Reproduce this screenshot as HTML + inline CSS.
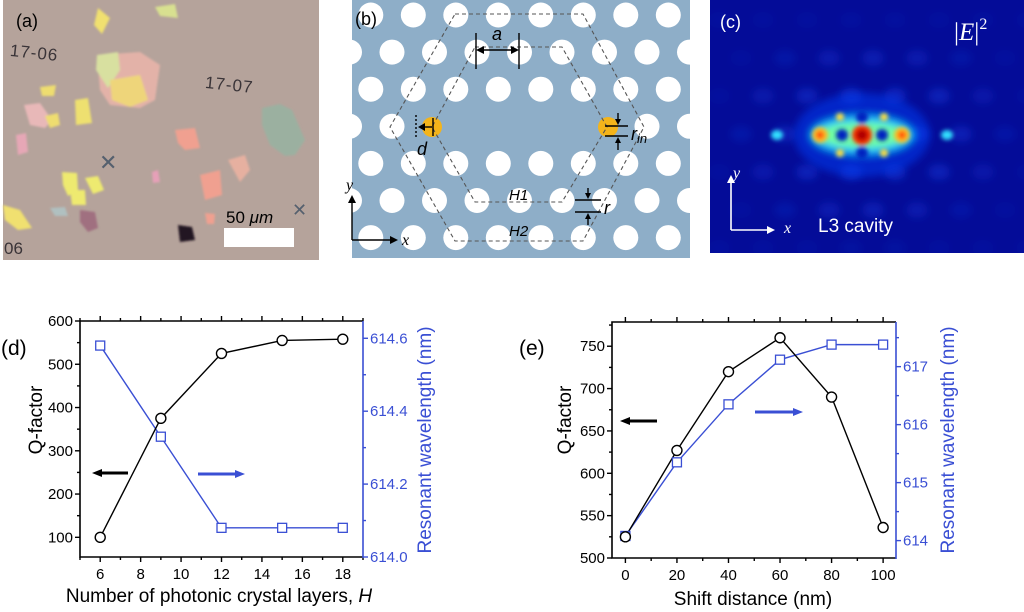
<!DOCTYPE html>
<html><head><meta charset="utf-8"><style>
html,body{margin:0;padding:0;background:#fff;}
svg{display:block;font-family:"Liberation Sans",sans-serif;}
</style></head><body>
<svg id="fig" width="1024" height="612" viewBox="0 0 1024 612">
<defs>
<filter id="blur4" x="-50%" y="-50%" width="200%" height="200%"><feGaussianBlur stdDeviation="4"/></filter>
<filter id="blur2" x="-50%" y="-50%" width="200%" height="200%"><feGaussianBlur stdDeviation="2.2"/></filter>
<filter id="blur1" x="-50%" y="-50%" width="200%" height="200%"><feGaussianBlur stdDeviation="1"/></filter>
<clipPath id="clipb"><rect x="352" y="0" width="338" height="258"/></clipPath>
<clipPath id="clipc"><rect x="710" y="0" width="314" height="253"/></clipPath>
</defs>

<!-- Panel (a) -->
<g>
<rect x="3" y="0" width="316" height="260" fill="#b5a39b"/>
<g filter="url(#blur1)">
<polygon points="97,55 140,52 160,65 155,100 140,108 110,105 100,90" fill="#e3b2a8"/>
<polygon points="97,55 118,52 120,70 108,88 96,70" fill="#d8e0a0"/>
<polygon points="110,80 140,75 148,100 130,107 112,100" fill="#eed57a"/>
<polygon points="262,108 280,104 292,110 305,140 295,155 285,156 270,145 262,125" fill="#9bb0a0"/>
<polygon points="98,8 110,18 102,34 94,25" fill="#f0e070"/>
<polygon points="155,7 175,4 178,18 160,16" fill="#d8e090"/>
<polygon points="24,105 40,103 52,120 45,128 30,125" fill="#e8b8b8"/>
<polygon points="45,116 58,113 60,125 50,128" fill="#eedd70"/>
<polygon points="16,135 26,133 28,152 18,155" fill="#e6a7b6"/>
<polygon points="75,100 88,98 92,123 76,125" fill="#eee070"/>
<polygon points="40,87 56,85 54,96 42,96" fill="#eedd70"/>
<polygon points="175,130 195,128 200,148 185,150 178,143" fill="#f0a090"/>
<polygon points="62,172 77,173 78,190 68,196 63,185" fill="#eeea70"/>
<polygon points="85,178 98,176 104,190 93,194" fill="#eeea70"/>
<polygon points="70,190 85,190 86,205 72,205" fill="#eeea70"/>
<polygon points="200,175 220,170 222,195 205,200" fill="#f0a090"/>
<polygon points="228,160 245,155 250,170 240,182" fill="#e6b0a0"/>
<polygon points="152,172 158,170 160,182 153,183" fill="#e6a0b8"/>
<polygon points="3,205 20,210 32,228 18,230 5,220" fill="#f0e070"/>
<polygon points="50,208 65,207 68,216 55,216" fill="#b0c0c0"/>
<polygon points="80,210 95,212 98,228 88,232 80,222" fill="#a07080"/>
<polygon points="178,225 192,227 195,240 180,242" fill="#201820"/>
<polygon points="205,213 215,214 214,224 207,224" fill="#f0a090"/>
</g>
<text x="10" y="58" font-size="17" fill="#3a3438" letter-spacing="1" transform="rotate(6 30 52)">17-06</text>
<text x="205" y="90" font-size="17" fill="#3a3438" letter-spacing="1" transform="rotate(6 225 85)">17-07</text>
<text x="4" y="254" font-size="17" fill="#3a3438">06</text>
<text x="99" y="170" font-size="22" fill="#55606e">✕</text>
<text x="292" y="216" font-size="18" fill="#55606e">✕</text>
<rect x="224" y="228" width="70" height="19" fill="#fff"/>
<text x="226" y="223" font-size="17" fill="#000">50 <tspan font-style="italic">μm</tspan></text>
<text x="16" y="27" font-size="18" fill="#000">(a)</text>
</g>

<!-- Panel (b) -->
<g>
<rect x="352" y="0" width="338" height="258" fill="#8eaec8"/>
<g id="holes" clip-path="url(#clipb)"></g>
<circle cx="432" cy="127" r="10" fill="#f4b41a"/>
<circle cx="608" cy="127" r="10" fill="#f4b41a"/>
<polygon points="455,14 583,14 644,127 583,241 455,241 390,127" fill="none" stroke="#555" stroke-width="1.1" stroke-dasharray="4,3"/>
<polygon points="475,47 562,47 607,127 562,202 475,202 432,127" fill="none" stroke="#555" stroke-width="1.1" stroke-dasharray="4,3"/>
<g stroke="#000" stroke-width="1.4" fill="none">
<line x1="476" y1="33" x2="476" y2="69"/><line x1="519" y1="33" x2="519" y2="69"/>
<line x1="480" y1="50" x2="515" y2="50"/>
<line x1="416" y1="115" x2="416" y2="138" stroke-dasharray="2,2"/>
<line x1="433" y1="118" x2="433" y2="136"/>
<line x1="422" y1="127" x2="432" y2="127"/>
<line x1="605" y1="126" x2="628" y2="126"/><line x1="605" y1="136" x2="628" y2="136"/>
<line x1="618" y1="113" x2="618" y2="123"/><line x1="618" y1="140" x2="618" y2="150"/>
<line x1="575" y1="200" x2="601" y2="200"/><line x1="575" y1="212" x2="601" y2="212"/>
<line x1="588" y1="188" x2="588" y2="197"/><line x1="588" y1="216" x2="588" y2="225"/>
<line x1="352" y1="240" x2="352" y2="200"/><line x1="352" y1="240" x2="392" y2="240"/>
</g>
<g fill="#000">
<polygon points="476,50 484,46 484,54"/><polygon points="519,50 511,46 511,54"/>
<polygon points="418,127 425,123 425,131"/>
<polygon points="618,125 615,119 621,119"/><polygon points="618,137 615,143 621,143"/>
<polygon points="588,199 585,193 591,193"/><polygon points="588,213 585,219 591,219"/>
<polygon points="352,195 348,203 356,203"/><polygon points="398,240 390,236 390,244"/>
</g>
<g font-style="italic" font-size="18" fill="#000">
<text x="492" y="40">a</text>
<text x="417" y="155">d</text>
<text x="631" y="140">r<tspan font-size="13" dy="3">in</tspan></text>
<text x="604" y="214">r</text>
<text x="509" y="200" font-size="15">H1</text>
<text x="509" y="236" font-size="15">H2</text>
<text x="346" y="190" font-size="16" font-family="Liberation Serif">y</text>
<text x="402" y="245" font-size="16" font-family="Liberation Serif">x</text>
</g>
<text x="355" y="25" font-size="18" fill="#000">(b)</text>
</g>

<!-- Panel (c) -->
<g>
<rect x="710" y="0" width="314" height="253" fill="#040c98"/>
<g id="field" clip-path="url(#clipc)"></g>
<text x="720" y="28" font-size="18" fill="#fff">(c)</text>
<text x="954" y="40" font-size="25" fill="#fff" font-family="Liberation Serif">|<tspan font-style="italic">E</tspan>|<tspan font-size="16" dy="-11">2</tspan></text>
<text x="818" y="232" font-size="19" fill="#fff">L3 cavity</text>
<g stroke="#fff" stroke-width="1.6"><line x1="731" y1="230" x2="731" y2="180"/><line x1="731" y1="230" x2="770" y2="230"/></g>
<g fill="#fff"><polygon points="731,175 727,183 735,183"/><polygon points="775,230 767,226 767,234"/></g>
<text x="733" y="178" font-size="16" font-style="italic" fill="#fff" font-family="Liberation Serif">y</text>
<text x="784" y="233" font-size="16" font-style="italic" fill="#fff" font-family="Liberation Serif">x</text>
</g>

<g id="chartD"></g>
<g id="chartE"></g>
</svg>

<script>
// ---------- data: panel (d)
const dLayers = [6, 9, 12, 15, 18];
const dQ = [100, 375, 525, 555, 558];
const dWl = [614.58, 614.33, 614.08, 614.08, 614.08];
const dXTicks = [6, 8, 10, 12, 14, 16, 18];
const dQTicks = [100, 200, 300, 400, 500, 600];
const dWlTicks = ["614.0", "614.2", "614.4", "614.6"];
// ---------- data: panel (e)
const eShift = [0, 20, 40, 60, 80, 100];
const eQ = [525, 627, 720, 760, 690, 536];
const eWl = [614.08, 615.35, 616.35, 617.12, 617.38, 617.38];
const eXTicks = [0, 20, 40, 60, 80, 100];
const eQTicks = [500, 550, 600, 650, 700, 750];
const eWlTicks = ["614", "615", "616", "617"];

const NS = "http://www.w3.org/2000/svg";
const BLUE = "#3a4fd4";
function mk(parent, tag, attrs, txt) {
  const el = document.createElementNS(NS, tag);
  for (const k in attrs) el.setAttribute(k, attrs[k]);
  if (txt !== undefined) el.textContent = txt;
  parent.appendChild(el);
  return el;
}

// lattice holes
(function(){
  const g = document.getElementById('holes');
  for (let j = 0; j < 7; j++) {
    const y = 15 + 37.1 * j;
    const x0 = (j % 2 ? 392 : 413.3) - 42.5 * 2;
    for (let k = 0; k < 10; k++) {
      const x = x0 + 42.5 * k;
      if (j === 3 && x > 420 && x < 620) continue;
      const c = mk(g, 'circle', {cx: x, cy: y, r: 12.5, fill: '#fff'});
      
      
    }
  }
})();

// field pattern
(function(){
  const g = document.getElementById('field');
  const soft = mk(g, 'g', {filter: 'url(#blur4)'});
  for (let j = 0; j < 7; j++) {
    const y = 20 + 38 * j;
    const x0 = (j % 2 ? 733 : 755) - 44;
    for (let k = 0; k < 9; k++) {
      const x = x0 + 44 * k;
      const d = Math.hypot((x - 862) / 160, (y - 135) / 120);
      const op = Math.max(0.06, 0.55 - 0.5 * d);
      mk(soft, 'ellipse', {cx: x + 8, cy: y, rx: 11, ry: 8, fill: '#1e50ff', opacity: op});
    }
  }
  const mid = mk(g, 'g', {filter: 'url(#blur4)'});
  mk(mid, 'ellipse', {cx: 862, cy: 135, rx: 68, ry: 42, fill: '#0838f0', opacity: 0.55});
  mk(mid, 'ellipse', {cx: 862, cy: 135, rx: 52, ry: 20, fill: '#10c0ff'});
  mk(mid, 'ellipse', {cx: 862, cy: 135, rx: 44, ry: 13, fill: '#70ffa0'});
  const hot = mk(g, 'g', {filter: 'url(#blur2)'});
  [[842,135],[882,135],[862,117],[862,153]].forEach(p => mk(hot,'circle',{cx:p[0],cy:p[1],r:6,fill:'#0520c0'}));
  [[820,135],[902,135]].forEach(p => { mk(hot,'circle',{cx:p[0],cy:p[1],r:8,fill:'#ffc020'}); mk(hot,'circle',{cx:p[0],cy:p[1],r:4,fill:'#ff5010'}); });
  mk(hot,'circle',{cx:862,cy:135,r:10,fill:'#ff3000'});
  mk(hot,'circle',{cx:862,cy:135,r:6,fill:'#b00000'});
  [[840,117],[884,117],[840,153],[884,153]].forEach(p => mk(hot,'circle',{cx:p[0],cy:p[1],r:4,fill:'#ffe040'}));
  [[777,135],[947,135]].forEach(p => mk(hot,'ellipse',{cx:p[0],cy:p[1],rx:6,ry:5,fill:'#30e0ff'}));
})();

function drawChart(root, cfg) {
  const g = document.getElementById(root);
  const {L, R, T, B, xMin, xMax, yMin, yMax, y2Min, y2Max} = cfg;
  const sx = v => L + (v - xMin) / (xMax - xMin) * (R - L);
  const sy = v => B - (v - yMin) / (yMax - yMin) * (B - T);
  const sy2 = v => B - (v - y2Min) / (y2Max - y2Min) * (B - T);
  const tk = (x1,y1,x2,y2,col) => mk(g,'line',{x1,y1,x2,y2,stroke:col,'stroke-width':1.4});
  cfg.xTicks.forEach(v => {
    tk(sx(v),B,sx(v),B+5,'#000'); tk(sx(v),T,sx(v),T-5,'#000');
    const t = mk(g,'text',{x:sx(v),y:B+22,'font-size':15,'text-anchor':'middle',fill:'#000'}, v);
    
    
  });
  for (let i = 0; i < cfg.xTicks.length - 1; i++) {
    const m = (cfg.xTicks[i] + cfg.xTicks[i+1]) / 2;
    tk(sx(m),B,sx(m),B+3,'#000'); tk(sx(m),T,sx(m),T-3,'#000');
  }
  [cfg.xTicks[0]-(cfg.xTicks[1]-cfg.xTicks[0])/2, cfg.xTicks[cfg.xTicks.length-1]+(cfg.xTicks[1]-cfg.xTicks[0])/2].forEach(m => {
    if (m >= xMin && m <= xMax) { tk(sx(m),B,sx(m),B+3,'#000'); tk(sx(m),T,sx(m),T-3,'#000'); }
  });
  const qs = cfg.yTicks[1] - cfg.yTicks[0];
  for (let v = cfg.yTicks[0] - qs; v <= yMax + 0.001; v += qs / 2) {
    if (v < yMin) continue;
    const major = cfg.yTicks.includes(v);
    tk(L, sy(v), L - (major ? 5 : 3), sy(v), '#000');
  }
  cfg.yTicks.forEach(v => {
    const t = mk(g,'text',{x:L-7,y:sy(v)+5,'font-size':15,'text-anchor':'end',fill:'#000'}, v);
    
    
  });
  const w = cfg.y2Ticks.map(Number);
  const ws = w[1] - w[0];
  for (let v = w[0] - ws; v <= y2Max + 1e-6; v += ws / 2) {
    if (v < y2Min - 1e-6) continue;
    const major = w.some(x => Math.abs(x - v) < 1e-6);
    tk(R, sy2(v), R + (major ? 5 : 3), sy2(v), BLUE);
  }
  cfg.y2Ticks.forEach(s => {
    const t = mk(g,'text',{x:R+7,y:sy2(Number(s))+5,'font-size':15,fill:BLUE}, s);
    
    
  });
  mk(g,'path',{d:`M${R},${T} L${L},${T} L${L},${B} L${R},${B}`,fill:'none',stroke:'#000','stroke-width':1.6});
  mk(g,'line',{x1:R,y1:T,x2:R,y2:B+1,stroke:BLUE,'stroke-width':1.6});
  const qPts = cfg.xs.map((x,i)=>sx(x)+','+sy(cfg.q[i])).join(' ');
  const wPts = cfg.xs.map((x,i)=>sx(x)+','+sy2(cfg.wl[i])).join(' ');
  const wl = mk(g,'polyline',{points:wPts,fill:'none',stroke:BLUE,'stroke-width':1.4});
  
  
  const ql = mk(g,'polyline',{points:qPts,fill:'none',stroke:'#000','stroke-width':1.4});
  
  
  cfg.xs.forEach((x,i) => {
    const s = mk(g,'rect',{x:sx(x)-4.5,y:sy2(cfg.wl[i])-4.5,width:9,height:9,fill:'#fff',stroke:BLUE,'stroke-width':1.3});
    
    
  });
  cfg.xs.forEach((x,i) => {
    const c = mk(g,'circle',{cx:sx(x),cy:sy(cfg.q[i]),r:5,fill:'#fff',stroke:'#000','stroke-width':1.4});
    
    
  });
  const a1 = cfg.arrowL, a2 = cfg.arrowR;
  mk(g,'line',{x1:a1[1],y1:a1[2],x2:a1[0]+8,y2:a1[2],stroke:'#000','stroke-width':3});
  mk(g,'polygon',{points:`${a1[0]},${a1[2]} ${a1[0]+10},${a1[2]-4} ${a1[0]+10},${a1[2]+4}`,fill:'#000'});
  mk(g,'line',{x1:a2[0],y1:a2[2],x2:a2[1]-8,y2:a2[2],stroke:BLUE,'stroke-width':3});
  mk(g,'polygon',{points:`${a2[1]},${a2[2]} ${a2[1]-10},${a2[2]-4} ${a2[1]-10},${a2[2]+4}`,fill:BLUE});
  const yt = mk(g,'text',{x:0,y:0,'font-size':19,'text-anchor':'middle',fill:'#000',transform:`translate(${cfg.yTitleX},${cfg.yTitleY}) rotate(-90)`}, 'Q-factor');
  
  
  const y2t = mk(g,'text',{x:0,y:0,'font-size':19,'text-anchor':'middle',fill:BLUE,transform:`translate(${cfg.y2TitleX},${cfg.y2TitleY}) rotate(-90)`}, 'Resonant wavelength (nm)');
  
  
  const xt = mk(g,'text',{x:cfg.xTitleX,y:cfg.xTitleY,'font-size':19,'text-anchor':'middle',fill:'#000'}, cfg.xTitle);
  if (cfg.xTitleItalic) mk(xt,'tspan',{'font-style':'italic'}, cfg.xTitleItalic);
  
  
  const pl = mk(g,'text',{x:cfg.lblX,y:cfg.lblY,'font-size':21,fill:'#000'}, cfg.label);
  
  
}

drawChart('chartD', {L:80,R:363,T:321,B:557,xMin:5,xMax:19,yMin:54.5,yMax:600,y2Min:614.0,y2Max:614.6+(338.3-321)/219*0.6,
  xs:dLayers,q:dQ,wl:dWl,xTicks:dXTicks,yTicks:dQTicks,y2Ticks:dWlTicks,
  arrowL:[92,128,473],arrowR:[198,245,474],
  yTitleX:42,yTitleY:420,y2TitleX:431,y2TitleY:440,xTitleX:219,xTitleY:602,xTitle:'Number of photonic crystal layers, ',xTitleItalic:'H',
  lblX:1,lblY:355,label:'(d)'});
drawChart('chartE', {L:612,R:896,T:322,B:558,xMin:-5.2,xMax:105,yMin:500,yMax:778.6,y2Min:613.7,y2Max:617.77,
  xs:eShift,q:eQ,wl:eWl,xTicks:eXTicks,yTicks:eQTicks,y2Ticks:eWlTicks,
  arrowL:[620,657,421],arrowR:[755,803,412],
  yTitleX:571,yTitleY:420,y2TitleX:954,y2TitleY:440,xTitleX:753,xTitleY:605,xTitle:'Shift distance (nm)',xTitleItalic:'',
  lblX:519,lblY:355,label:'(e)'});
</script>
</body></html>
